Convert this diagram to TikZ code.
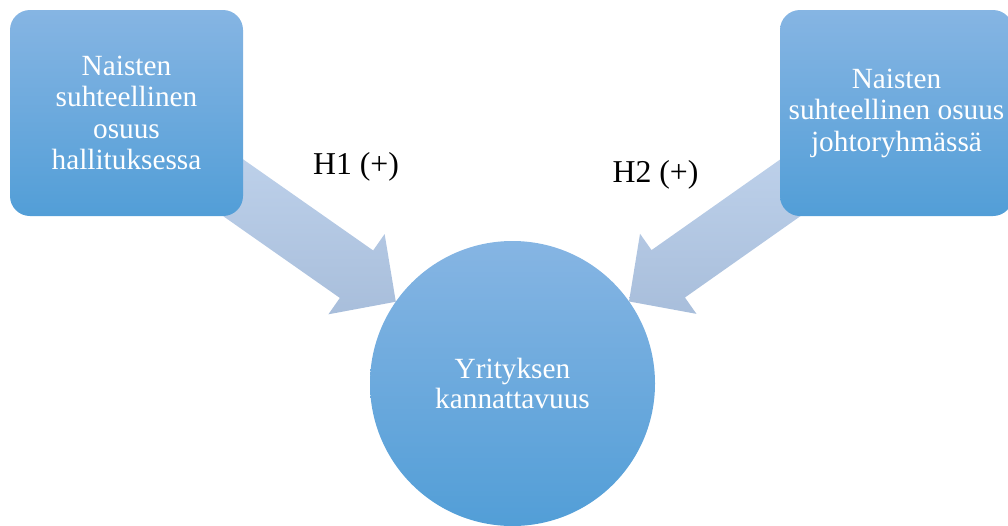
\documentclass[tikz,border=0pt]{standalone}
\usepackage{fontspec}
\setmainfont{Liberation Serif}
\usetikzlibrary{calc,backgrounds}
\definecolor{boxtop}{HTML}{86B5E3}
\definecolor{boxbot}{HTML}{529ED7}
\definecolor{arrowtop}{HTML}{C6D8F0}
\definecolor{arrowbot}{HTML}{A8BEDB}
\tikzstyle{box} = [rectangle, rounded corners=20pt, minimum width=233pt, minimum height=206pt, inner sep=0pt, top color=boxtop, bottom color=boxbot, text=white, align=center, font=\fontsize{29.3pt}{31.5pt}\selectfont]
\tikzstyle{hub} = [circle, minimum size=285pt, inner sep=0pt, top color=boxtop, bottom color=boxbot, text=white, align=center, font=\fontsize{29.3pt}{30pt}\selectfont]
\tikzstyle{hypo} = [anchor=base, inner sep=0pt, font=\fontsize{31.8pt}{36pt}\selectfont]
\tikzstyle{bigarrow} = [top color=arrowtop, bottom color=arrowbot]

\begin{document}
\begin{tikzpicture}[x=1pt, y=-1pt]
      \useasboundingbox (0,0) rectangle (1008,525);
      % place nodes
      \node [box] (board) at (126.5,113) {Naisten\\suhteellinen\\osuus\\hallituksessa};
      \node [box] (mgmt) at (896.5,113) {Naisten\\suhteellinen osuus\\johtoryhmässä};
      \node [hub] (profit) at (512.5,383.5) {Yrityksen\\kannattavuus};
      \node [hypo] (h1) at (356,174) {H1 (+)};
      \node [hypo] (h2) at (655.5,182) {H2 (+)};

      % draw arrows
      \coordinate (tip1) at ($(profit.center)!142.5pt!(board.center)$);
      \coordinate (base1) at ($(tip1)!48pt!(board.center)$);
      \coordinate (tip2) at ($(profit.center)!142.5pt!(mgmt.center)$);
      \coordinate (base2) at ($(tip2)!48pt!(mgmt.center)$);
      \begin{scope}[on background layer]
        \shade [bigarrow] (tip1) -- ($(base1)!49pt!90:(tip1)$) -- ($(base1)!29pt!90:(tip1)$)
          -- ($(board.center)!29pt!90:(tip1)$) -- ($(board.center)!29pt!-90:(tip1)$)
          -- ($(base1)!29pt!-90:(tip1)$) -- ($(base1)!49pt!-90:(tip1)$) -- cycle;
        \shade [bigarrow] (tip2) -- ($(base2)!49pt!90:(tip2)$) -- ($(base2)!29pt!90:(tip2)$)
          -- ($(mgmt.center)!29pt!90:(tip2)$) -- ($(mgmt.center)!29pt!-90:(tip2)$)
          -- ($(base2)!29pt!-90:(tip2)$) -- ($(base2)!49pt!-90:(tip2)$) -- cycle;
      \end{scope}
\end{tikzpicture}
\end{document}
